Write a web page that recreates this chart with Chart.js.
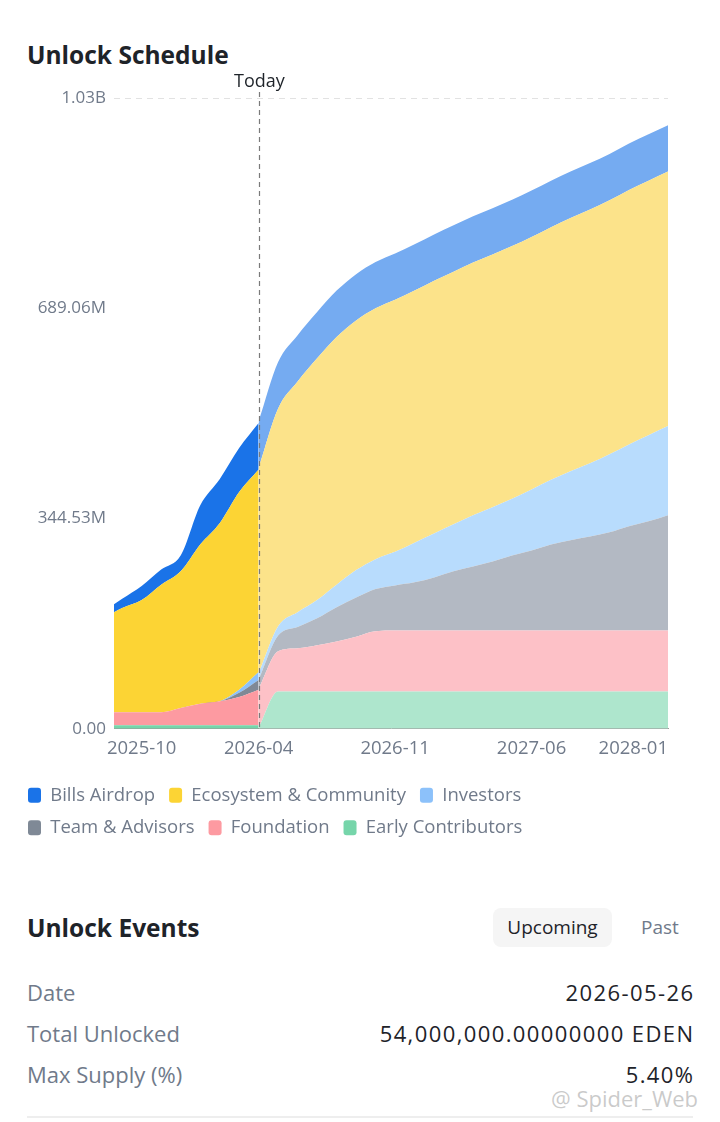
<!DOCTYPE html>
<html>
<head>
<meta charset="utf-8">
<script src="https://cdn.jsdelivr.net/npm/chart.js@4.4.0/dist/chart.umd.min.js"></script>
<style>
  body { margin: 0; width: 720px; height: 1122px; background: #fff; overflow: hidden; position: relative;
         font-family: "Open Sans", sans-serif; color: #1e2329; }
  .title { position: absolute; left: 27px; font-size: 24.5px; font-weight: 700; line-height: 30px; }
  #wrap { position: absolute; left: 14px; top: 70px; width: 692px; height: 777px; }
  .pill { position: absolute; left: 493px; top: 908px; width: 119px; height: 39px; border-radius: 8px;
          background: #f5f5f5; font-size: 19px; line-height: 39px; text-align: center; }
  .past { position: absolute; left: 630px; top: 908px; width: 60px; font-size: 19px; line-height: 39px;
          text-align: center; color: #707a8a; }
  .row { position: absolute; left: 27px; width: 666px; height: 30px; line-height: 30px; font-size: 22px;
         display: flex; justify-content: space-between; }
  .row span:first-child { color: #707a8a; }
  .row span:last-child { font-weight: 500; letter-spacing: 1.4px; margin-right: -1.4px; }
  .line { position: absolute; left: 27px; top: 1116px; width: 666px; height: 2px; background: #eeeeee; }
  .mark { position: absolute; left: 551px; top: 1083px; font-size: 22px; color: rgba(150,150,150,0.5); }
</style>
</head>
<body>
<div class="title" style="top:40px">Unlock Schedule</div>
<div id="wrap"><canvas id="chart"></canvas></div>

<div class="title" style="top:913px">Unlock Events</div>
<div class="pill">Upcoming</div>
<div class="past">Past</div>
<div class="row" style="top:977px"><span>Date</span><span>2026-05-26</span></div>
<div class="row" style="top:1018px"><span>Total Unlocked</span><span>54,000,000.00000000 EDEN</span></div>
<div class="row" style="top:1059px"><span>Max Supply (%)</span><span>5.40%</span></div>
<div class="mark">@ Spider_Web</div>
<div class="line"></div>

<script>
// series, bottom of the stack first (values in millions)
var series = ["Early Contributors", "Foundation", "Team & Advisors", "Investors", "Ecosystem & Community", "Bills Airdrop"];

var pastDates = ["2025-08-19", "2025-09-01", "2025-10-01", "2025-11-01", "2025-12-01",
                 "2026-01-01", "2026-02-01", "2026-03-01", "2026-04-01"];
var earlyPast      = [6, 6, 6, 6, 6, 6, 6, 6, 6];
var foundationPast = [21, 21, 21, 21, 28, 35, 39, 46, 58];
var teamPast       = [0, 0, 0, 0, 0, 0, 0, 7, 16];
var investorsPast  = [0, 0, 0, 0, 0, 0, 0, 5, 13];
var ecosystemPast  = [164, 171, 184, 209, 224, 261, 292, 324, 332];
var billsPast      = [13, 15, 23, 25, 26, 64, 72, 72, 76];

var futureDates = ["2026-04-01", "2026-05-01", "2026-06-01", "2026-07-01", "2026-08-01", "2026-09-01",
                   "2026-10-01", "2026-11-01", "2026-12-01", "2027-01-01", "2027-02-01", "2027-03-01",
                   "2027-04-01", "2027-05-01", "2027-06-01", "2027-07-01", "2027-08-01", "2027-09-01",
                   "2027-10-01", "2027-11-01", "2027-12-01", "2028-01-01"];
var earlyFuture      = [2, 61, 61, 61, 61, 61, 61, 61, 61, 61, 61, 61, 61, 61, 61, 61, 61, 61, 61, 61, 61, 61];
var foundationFuture = [64, 66, 71, 76, 82, 90, 99, 100, 100, 100, 100, 100, 100, 100, 100, 100, 100, 100, 100, 100, 100, 100];
var teamFuture       = [15, 26, 35, 44, 56, 64, 69, 74, 79, 87, 97, 105, 113, 123, 131, 141, 148, 154, 161, 171, 179, 189];
var investorsFuture  = [10, 15, 24, 30, 37, 45, 49, 55, 65, 72, 77, 84, 89, 93, 100, 106, 113, 120, 128, 134, 141, 146];
var ecosystemFuture  = [337, 357, 378, 396, 406, 409, 411, 413, 413, 414, 414, 414, 414, 414, 414, 414, 415, 416, 416, 417, 417, 417];
var billsFuture      = [76, 76, 76, 76, 76, 76, 76, 76, 76, 76, 76, 76, 76, 76, 76, 76, 76, 76, 76, 76, 76, 76];

var today = "2026-04-01";
var xTickLabels = ["2025-10", "2026-04", "2026-11", "2027-06", "2028-01"];
var yTicks = [0, 344.53, 689.06, 1033.59];
var yTickLabels = ["0.00", "344.53M", "689.06M", "1.03B"];

var pastColors   = ["#76d5aa", "#fd9aa1", "#7f8996", "#8cc1fa", "#fcd434", "#1a73e8"];
var futureColors = ["#aee6cd", "#fdc1c7", "#b3b9c3", "#b8dcfd", "#fce38a", "#75abf1"];

// months since 2025-08-01
function monthPos(s) {
	var p = s.split("-").map(Number);
	return (p[0] - 2025) * 12 + (p[1] - 8) + ((p[2] || 1) - 1) / 31;
}

function points(dates, values) {
	return dates.map(function(d, i) { return {x: monthPos(d), y: values[i]}; });
}

var pastValues = [earlyPast, foundationPast, teamPast, investorsPast, ecosystemPast, billsPast];
var futureValues = [earlyFuture, foundationFuture, teamFuture, investorsFuture, ecosystemFuture, billsFuture];

var datasets = [];
series.forEach(function(name, i) {
	datasets.push({
		label: name, stack: "past", data: points(pastDates, pastValues[i]),
		backgroundColor: pastColors[i], borderWidth: 0, pointRadius: 0,
		fill: i === 0 ? "origin" : "-1", cubicInterpolationMode: "monotone"
	});
});
series.forEach(function(name, i) {
	datasets.push({
		label: name, stack: "future", data: points(futureDates, futureValues[i]),
		backgroundColor: futureColors[i], borderWidth: 0, pointRadius: 0,
		fill: i === 0 ? "origin" : "-1", cubicInterpolationMode: "monotone"
	});
});

var todayLine = {
	id: "todayLine",
	afterDatasetsDraw: function(chart) {
		var c = chart.ctx, area = chart.chartArea;
		var x = Math.round(chart.scales.x.getPixelForValue(monthPos(today))) + 0.5;
		c.save();
		c.strokeStyle = "#7a7a7a";
		c.lineWidth = 1.2;
		c.setLineDash([5, 4]);
		c.beginPath();
		c.moveTo(x, area.top - 6);
		c.lineTo(x, area.bottom);
		c.stroke();
		c.setLineDash([]);
		c.fillStyle = "#1e2329";
		c.font = "18px 'Open Sans'";
		c.textAlign = "center";
		c.textBaseline = "middle";
		c.fillText("Today", x, area.top - 16);
		c.restore();
	}
};

new Chart(document.getElementById("chart"), {
	type: "line",
	data: {datasets: datasets},
	plugins: [todayLine],
	options: {
		responsive: true,
		maintainAspectRatio: false,
		animation: false,
		layout: {padding: {top: 28, right: 38}},
		scales: {
			x: {
				type: "linear",
				min: monthPos(pastDates[0]),
				max: monthPos(futureDates[futureDates.length - 1]),
				grid: {display: false, drawTicks: false},
				border: {display: true, color: "#9a9a9a", dash: [6, 5]},
				afterBuildTicks: function(scale) {
					scale.ticks = [{value: scale.min}].concat(xTickLabels.map(function(t) {
						return {value: monthPos(t + "-01")};
					}));
				},
				afterFit: function(scale) { scale.height += 3; },
				ticks: {
					autoSkip: false, maxRotation: 0, align: "inner", padding: 9,
					color: "#707a8a", font: {family: "'Open Sans'", size: 18.5},
					callback: function(v, i) { return i === 0 ? "" : xTickLabels[i - 1]; }
				}
			},
			y: {
				stacked: true,
				min: 0,
				max: yTicks[yTicks.length - 1],
				afterBuildTicks: function(scale) {
					scale.ticks = yTicks.map(function(v) { return {value: v}; });
				},
				afterFit: function(scale) { scale.width = 100; },
				border: {display: false, dash: [6, 5]},
				grid: {
					drawTicks: false,
					color: function(ctx) {
						return ctx.index === yTicks.length - 1 ? "#e2e2e2" : "rgba(0,0,0,0)";
					}
				},
				ticks: {
					padding: 8, color: "#707a8a", font: {family: "'Open Sans'", size: 17},
					callback: function(v, i) { return yTickLabels[i]; }
				}
			}
		},
		plugins: {
			tooltip: {enabled: false},
			legend: {
				position: "bottom",
				align: "start",
				labels: {
					color: "#707a8a",
					font: {family: "'Open Sans'", size: 18.5},
					boxWidth: 13, boxHeight: 15,
					useBorderRadius: true, borderRadius: 3,
					padding: 14,
					filter: function(item) { return item.datasetIndex < 6; },
					sort: function(a, b) { return b.datasetIndex - a.datasetIndex; }
				}
			}
		}
	}
});
</script>
</body>
</html>
